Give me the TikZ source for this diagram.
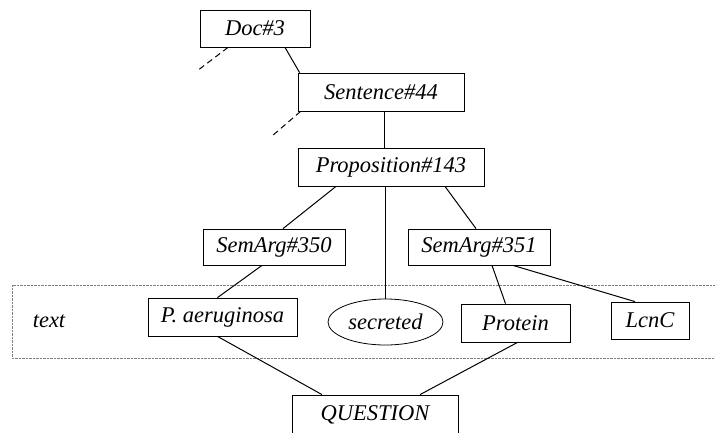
\documentclass[tikz,border=0pt]{standalone}
\usepackage{fontspec}
\setmainfont{Liberation Serif}
\usetikzlibrary{calc}
\usetikzlibrary{shapes.geometric}
\tikzset{
	unit/.style={draw, thick, inner sep=0pt, font=\fontsize{22.5}{26}\selectfont\itshape},
	link/.style={line width=1pt},
	elided/.style={line width=1pt, dash pattern=on 6pt off 4pt}
}

\begin{document}
\begin{tikzpicture}[x=1pt, y=-1pt]
	% picture is 715 x 432, y grows downwards
	\useasboundingbox (0, 0) rectangle (715, 432);
	% text band
	\draw[densely dotted, gray] (12, 285) rectangle (720, 358);
	\node[font=\fontsize{22.5}{26}\selectfont\itshape] (txt) at (49, 321) {text};

	% document tree
	\node[unit, minimum width=110, minimum height=37] (doc) at (255, 28.5) {Doc\#3};
	\node[unit, minimum width=166, minimum height=38] (sent) at (381, 92) {Sentence\#44};
	\node[unit, minimum width=186, minimum height=38] (prop) at (391, 167) {Proposition\#143};
	\node[unit, minimum width=142, minimum height=36] (arga) at (274, 247) {SemArg\#350};
	\node[unit, minimum width=142, minimum height=36] (argb) at (479, 247) {SemArg\#351};

	% words in the text
	\node[unit, minimum width=149, minimum height=38] (pa) at (222.5, 317) {P. aeruginosa};
	\node[unit, ellipse, minimum width=115, minimum height=46] (sec) at (385.5, 322) {secreted};
	\node[unit, minimum width=109, minimum height=38] (prot) at (515.5, 323) {Protein};
	\node[unit, minimum width=78, minimum height=37] (lcnc) at (650, 320.5) {LcnC};

	\node[unit, minimum width=166, minimum height=40] (qst) at (375, 415) {QUESTION};

	% loose ends
	\coordinate (docmore) at (197, 71);
	\coordinate (sentmore) at (272, 136);

	\draw[elided] ([xshift=-27]doc.south) -- (docmore);
	\draw[elided] ([xshift=3]sent.south west) -- (sentmore);
	\draw[link] ([xshift=30]doc.south) -- ([xshift=2]sent.north west);
	\draw[link] ([xshift=3]sent.south) -- ([xshift=-7]prop.north);
	\draw[link] ([xshift=-55]prop.south) -- ([xshift=9]arga.north);
	\draw[link] (sec.north |- prop.south) -- (sec.north);
	\draw[link] ([xshift=54]prop.south) -- ([xshift=-3]argb.north);
	\draw[link] ([xshift=-12]arga.south) -- ([xshift=-5]pa.north);
	\draw[link] ([xshift=13]argb.south) -- ([xshift=-10]prot.north);
	\draw[link] ([xshift=34]argb.south) -- ([xshift=-15]lcnc.north);
	\draw[link] ([xshift=-5]pa.south) -- ([xshift=-53]qst.north);
	\draw[link] ([xshift=2]prot.south) -- ([xshift=45]qst.north);
\end{tikzpicture}
\end{document}
